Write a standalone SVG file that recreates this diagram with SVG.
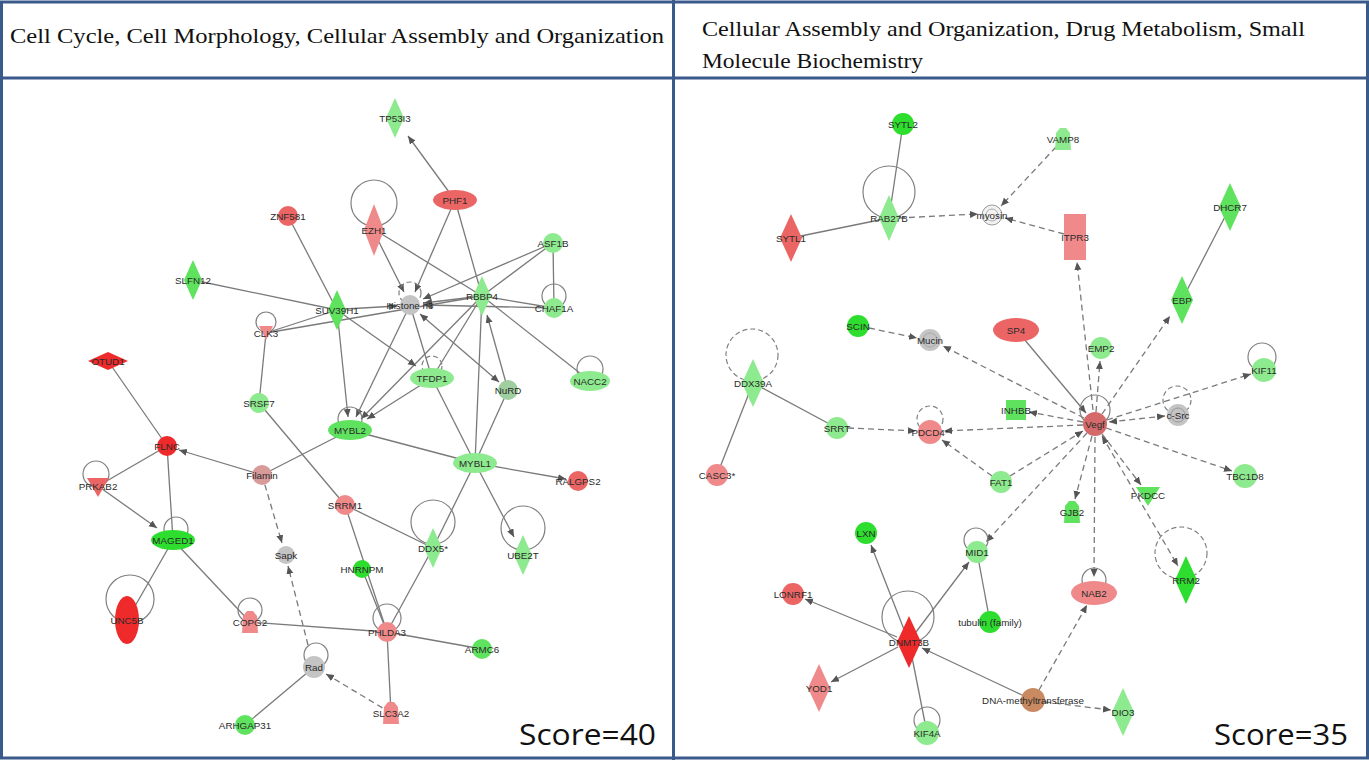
<svg xmlns="http://www.w3.org/2000/svg" xmlns:xlink="http://www.w3.org/1999/xlink" width="1369" height="760" viewBox="0 0 1369 760">
<style>
.e{stroke:#7a7a7a;stroke-width:1.3;fill:none}
.d{stroke:#7a7a7a;stroke-width:1.3;fill:none;stroke-dasharray:6 4}
.lp{stroke:#808080;stroke-width:1.2;fill:none}
.lpd{stroke:#808080;stroke-width:1.2;fill:none;stroke-dasharray:5 3}
.a{marker-end:url(#ar)}
.b{marker-start:url(#ar);marker-end:url(#ar)}
.G{fill:#2ede2e}
.g{fill:#5fe35f}
.l{fill:#8eea8e}
.R{fill:#ee2a2a}
.r{fill:#ec6565}
.p{fill:#f08a8a}
.y{fill:#c4c4c4}
.t{font-family:"Liberation Sans",Arial,sans-serif;font-size:9.8px;fill:#2a2a2a;text-anchor:middle;dominant-baseline:central}
.h{font-family:"Liberation Serif","Times New Roman",serif;font-size:22px;fill:#111}
.s{font-family:"Open Sans","Liberation Sans",sans-serif;font-size:29px;fill:#111}
.fr{stroke:#3a5a8c;fill:none}
</style>
<defs>
<marker id="ar" markerUnits="userSpaceOnUse" markerWidth="9" markerHeight="8" refX="8" refY="3.5" orient="auto-start-reverse"><path d="M0,0 L8,3.5 L0,7 Z" fill="#555"/></marker>
<path id="dia" d="M0,-20 L9,0 L0,20 L-9,0 Z"/>
<path id="diaL" d="M0,-24 L11,0 L0,24 L-11,0 Z"/>
<path id="hdia" d="M-20,0 L0,-9 L20,0 L0,9 Z"/>
<circle id="cir" r="10"/>
<circle id="cirL" r="12"/>
<ellipse id="ell" rx="22" ry="10"/>
<ellipse id="ellL" rx="23" ry="12"/>
<path id="tdn" d="M-12,-8 L12,-8 L0,11 Z"/>
<path id="trap" d="M-8,11 L-7,-6 L-3,-11 L3,-11 L7,-6 L8,11 Z"/>
<rect id="sq" x="-10" y="-10" width="20" height="20"/>
<rect id="rct" x="-11" y="-23" width="22" height="46"/>
</defs>
<rect x="0" y="0" width="1369" height="760" fill="#ffffff"/>

<g id="frame">
<rect class="fr" x="1.5" y="2" width="1366" height="756" stroke-width="3"/>
<line class="fr" x1="0" y1="78" x2="1369" y2="78" stroke-width="3"/>
<line class="fr" x1="673.5" y1="0" x2="673.5" y2="760" stroke-width="3"/>
<text class="h" x="10" y="43" textLength="654" lengthAdjust="spacingAndGlyphs">Cell Cycle, Cell Morphology, Cellular Assembly and Organization</text>
<text class="h" x="702" y="36" textLength="603" lengthAdjust="spacingAndGlyphs">Cellular Assembly and Organization, Drug Metabolism, Small</text>
<text class="h" x="702" y="68" textLength="221" lengthAdjust="spacingAndGlyphs">Molecule Biochemistry</text>
<text class="s" x="519" y="745" textLength="137" lengthAdjust="spacingAndGlyphs">Score=40</text>
<text class="s" x="1214" y="745" textLength="134" lengthAdjust="spacingAndGlyphs">Score=35</text>
</g>

<g id="connectors">
<!-- left panel -->
<line class="e a" x1="449" y1="192" x2="408" y2="136"/>
<line class="e a" x1="451" y1="209" x2="415" y2="292"/>
<line class="e" x1="455" y1="200" x2="482" y2="296"/>
<line class="e" x1="288" y1="216" x2="337" y2="310"/>
<line class="e a" x1="378" y1="240" x2="404" y2="292"/>
<line class="e" x1="380" y1="233" x2="482" y2="296"/>
<line class="e" x1="193" y1="280" x2="337" y2="310"/>
<line class="e a" x1="345" y1="309" x2="397" y2="306"/>
<line class="e" x1="266" y1="333" x2="337" y2="310"/>
<line class="e" x1="266" y1="333" x2="482" y2="296"/>
<line class="e a" x1="553" y1="243" x2="423" y2="299"/>
<line class="e" x1="553" y1="243" x2="482" y2="296"/>
<line class="e" x1="553" y1="243" x2="554" y2="308"/>
<line class="e a" x1="554" y1="308" x2="424" y2="305"/>
<line class="e" x1="554" y1="308" x2="482" y2="296"/>
<line class="e a" x1="482" y1="296" x2="424" y2="303"/>
<line class="e b" x1="420" y1="314" x2="499" y2="382"/>
<line class="e" x1="482" y1="296" x2="590" y2="381"/>
<line class="e a" x1="508" y1="390" x2="487" y2="315"/>
<line class="e" x1="482" y1="296" x2="475" y2="463"/>
<line class="e a" x1="482" y1="296" x2="361" y2="419"/>
<line class="e" x1="482" y1="296" x2="432" y2="378"/>
<line class="e a" x1="410" y1="305" x2="356" y2="417"/>
<line class="e" x1="410" y1="305" x2="432" y2="378"/>
<line class="e a" x1="337" y1="310" x2="348" y2="417"/>
<line class="e a" x1="337" y1="310" x2="416" y2="366"/>
<line class="e a" x1="432" y1="378" x2="367" y2="419"/>
<line class="e" x1="432" y1="378" x2="475" y2="463"/>
<line class="e" x1="508" y1="390" x2="475" y2="463"/>
<line class="e" x1="350" y1="430" x2="475" y2="463"/>
<line class="e a" x1="475" y1="463" x2="566" y2="479"/>
<line class="e a" x1="475" y1="463" x2="514" y2="537"/>
<line class="e" x1="475" y1="463" x2="433" y2="548"/>
<line class="e" x1="350" y1="430" x2="262" y2="475"/>
<line class="e" x1="259" y1="403" x2="266" y2="333"/>
<line class="e" x1="259" y1="403" x2="345" y2="505"/>
<line class="e" x1="345" y1="505" x2="433" y2="548"/>
<line class="e" x1="345" y1="505" x2="387" y2="632"/>
<line class="e" x1="362" y1="569" x2="387" y2="632"/>
<line class="e" x1="433" y1="548" x2="387" y2="632"/>
<line class="e" x1="387" y1="632" x2="250" y2="622"/>
<line class="e" x1="387" y1="632" x2="482" y2="649"/>
<line class="e" x1="387" y1="632" x2="391" y2="713"/>
<line class="d a" x1="391" y1="713" x2="326" y2="674"/>
<line class="d a" x1="308" y1="645" x2="288" y2="566"/>
<line class="d a" x1="262" y1="475" x2="282" y2="543"/>
<line class="e a" x1="262" y1="475" x2="179" y2="450"/>
<line class="e" x1="108" y1="361" x2="167" y2="446"/>
<line class="e" x1="167" y1="446" x2="98" y2="486"/>
<line class="e" x1="167" y1="446" x2="173" y2="540"/>
<line class="e a" x1="98" y1="486" x2="157" y2="528"/>
<line class="e" x1="173" y1="540" x2="127" y2="620"/>
<line class="e" x1="173" y1="540" x2="250" y2="622"/>
<line class="e" x1="314" y1="667" x2="245" y2="725"/>
<!-- left loops -->
<circle class="lp" cx="374" cy="203" r="23"/>
<circle class="lpd" cx="410" cy="293" r="11"/>
<circle class="lp" cx="554" cy="296" r="12"/>
<circle class="lp" cx="266" cy="322" r="10"/>
<circle class="lpd" cx="432" cy="366" r="10"/>
<circle class="lp" cx="590" cy="369" r="13"/>
<circle class="lp" cx="350" cy="419" r="12"/>
<circle class="lp" cx="96" cy="474" r="13"/>
<circle class="lp" cx="433" cy="522" r="22"/>
<circle class="lp" cx="523" cy="528" r="22"/>
<circle class="lp" cx="176" cy="529" r="12"/>
<circle class="lp" cx="130" cy="599" r="24"/>
<circle class="lp" cx="250" cy="610" r="12"/>
<circle class="lp" cx="387" cy="618" r="14"/>
<circle class="lp" cx="316" cy="655" r="12"/>
<!-- right panel -->
<line class="e" x1="903" y1="124" x2="889" y2="218"/>
<line class="e" x1="791" y1="238" x2="889" y2="218"/>
<line class="d a" x1="899" y1="218" x2="978" y2="214"/>
<line class="d a" x1="1056" y1="147" x2="1001" y2="206"/>
<line class="d a" x1="1064" y1="234" x2="1005" y2="218"/>
<line class="d a" x1="1093" y1="410" x2="1077" y2="262"/>
<line class="d a" x1="1102" y1="414" x2="1170" y2="316"/>
<line class="e" x1="1182" y1="300" x2="1230" y2="207"/>
<line class="d a" x1="869" y1="328" x2="917" y2="338"/>
<line class="d a" x1="1084" y1="418" x2="943" y2="346"/>
<line class="e a" x1="1024" y1="339" x2="1086" y2="413"/>
<line class="d a" x1="1096" y1="412" x2="1100" y2="361"/>
<line class="d a" x1="1083" y1="422" x2="1029" y2="412"/>
<line class="d a" x1="1083" y1="425" x2="944" y2="431"/>
<line class="d a" x1="848" y1="428" x2="916" y2="431"/>
<line class="d a" x1="992" y1="476" x2="942" y2="440"/>
<line class="d a" x1="1010" y1="476" x2="1083" y2="431"/>
<line class="e" x1="753" y1="383" x2="837" y2="428"/>
<line class="e" x1="753" y1="383" x2="717" y2="475"/>
<line class="d b" x1="1165" y1="416" x2="1109" y2="422"/>
<line class="d a" x1="1107" y1="420" x2="1251" y2="374"/>
<line class="d a" x1="1106" y1="428" x2="1232" y2="471"/>
<line class="d a" x1="1102" y1="434" x2="1141" y2="485"/>
<line class="d a" x1="1092" y1="436" x2="1075" y2="499"/>
<line class="d a" x1="1095" y1="437" x2="1094" y2="577"/>
<line class="d b" x1="1102" y1="436" x2="1178" y2="566"/>
<line class="d a" x1="1087" y1="433" x2="986" y2="542"/>
<line class="e" x1="977" y1="552" x2="990" y2="622"/>
<line class="e a" x1="905" y1="632" x2="871" y2="545"/>
<line class="e a" x1="916" y1="632" x2="969" y2="562"/>
<line class="e a" x1="897" y1="637" x2="805" y2="599"/>
<line class="e a" x1="898" y1="647" x2="831" y2="682"/>
<line class="e" x1="909" y1="642" x2="927" y2="733"/>
<line class="e a" x1="1022" y1="695" x2="922" y2="648"/>
<line class="d a" x1="1039" y1="690" x2="1087" y2="605"/>
<line class="d a" x1="1045" y1="702" x2="1111" y2="710"/>
<!-- right loops -->
<circle class="lp" cx="889" cy="192" r="26"/>
<circle class="lpd" cx="752" cy="355" r="26"/>
<circle class="lpd" cx="930" cy="419" r="13"/>
<circle class="lp" cx="1095" cy="410" r="15"/>
<circle class="lpd" cx="1177" cy="400" r="14"/>
<circle class="lp" cx="1262" cy="357" r="14"/>
<circle class="lpd" cx="1181" cy="553" r="26"/>
<circle class="lp" cx="976" cy="540" r="12"/>
<circle class="lp" cx="1094" cy="580" r="12"/>
<circle class="lp" cx="908" cy="617" r="26"/>
<circle class="lp" cx="927" cy="720" r="13"/>
</g>

<!-- left nodes -->
<g id="n-TP53I3" transform="translate(395,118)"><use href="#dia" class="l"/><text class="t">TP53I3</text></g>
<g id="n-PHF1" transform="translate(455,200)"><use href="#ell" class="r"/><text class="t">PHF1</text></g>
<g id="n-ZNF581" transform="translate(288,216)"><use href="#cir" class="r"/><text class="t">ZNF581</text></g>
<g id="n-EZH1" transform="translate(374,230)"><path d="M0,-26 L10,0 L0,26 L-10,0 Z" class="p"/><text class="t">EZH1</text></g>
<g id="n-SLFN12" transform="translate(193,280)"><use href="#dia" class="g"/><text class="t">SLFN12</text></g>
<g id="n-SUV39H1" transform="translate(337,310)"><use href="#dia" class="g"/><text class="t">SUV39H1</text></g>
<g id="n-Histone" transform="translate(410,305)"><use href="#cir" class="y"/><text class="t">Histone h3</text></g>
<g id="n-RBBP4" transform="translate(482,296)"><use href="#dia" class="l"/><text class="t">RBBP4</text></g>
<g id="n-ASF1B" transform="translate(553,243)"><use href="#cir" class="l"/><text class="t">ASF1B</text></g>
<g id="n-CHAF1A" transform="translate(554,308)"><use href="#cir" class="l"/><text class="t">CHAF1A</text></g>
<g id="n-CLK3" transform="translate(266,333)"><path d="M-7,-7 L7,-7 L0,7 Z" class="p"/><text class="t">CLK3</text></g>
<g id="n-TFDP1" transform="translate(432,378)"><use href="#ell" class="l"/><text class="t">TFDP1</text></g>
<g id="n-NuRD" transform="translate(508,390)"><use href="#cir" style="fill:#9fcf9f"/><text class="t">NuRD</text></g>
<g id="n-NACC2" transform="translate(590,381)"><ellipse rx="20" ry="10" class="l"/><text class="t">NACC2</text></g>
<g id="n-OTUD1" transform="translate(108,361)"><use href="#hdia" class="R"/><text class="t">OTUD1</text></g>
<g id="n-SRSF7" transform="translate(259,403)"><use href="#cir" class="l"/><text class="t">SRSF7</text></g>
<g id="n-MYBL2" transform="translate(350,430)"><use href="#ell" class="g"/><text class="t">MYBL2</text></g>
<g id="n-MYBL1" transform="translate(475,463)"><use href="#ell" class="l"/><text class="t">MYBL1</text></g>
<g id="n-FLNC" transform="translate(167,446)"><use href="#cir" class="R"/><text class="t">FLNC</text></g>
<g id="n-PRKAB2" transform="translate(98,486)"><path d="M-11,-8 L11,-8 L0,11 Z" class="r"/><text class="t">PRKAB2</text></g>
<g id="n-Filamin" transform="translate(262,475)"><use href="#cir" style="fill:#d99a9a"/><text class="t">Filamin</text></g>
<g id="n-RALGPS2" transform="translate(578,481)"><use href="#cir" class="r"/><text class="t">RALGPS2</text></g>
<g id="n-SRRM1" transform="translate(345,505)"><use href="#cir" class="p"/><text class="t">SRRM1</text></g>
<g id="n-DDX5" transform="translate(433,548)"><use href="#dia" class="l"/><text class="t">DDX5*</text></g>
<g id="n-UBE2T" transform="translate(523,555)"><use href="#dia" class="l"/><text class="t">UBE2T</text></g>
<g id="n-MAGED1" transform="translate(173,540)"><use href="#ell" class="G"/><text class="t">MAGED1</text></g>
<g id="n-Sapk" transform="translate(286,555)"><circle r="9" class="y"/><text class="t">Sapk</text></g>
<g id="n-HNRNPM" transform="translate(362,569)"><circle r="9" class="G"/><text class="t">HNRNPM</text></g>
<g id="n-UNC5B" transform="translate(127,620)"><ellipse rx="12" ry="24" class="R"/><text class="t">UNC5B</text></g>
<g id="n-COPG2" transform="translate(250,622)"><use href="#trap" class="p"/><text class="t">COPG2</text></g>
<g id="n-PHLDA3" transform="translate(387,632)"><use href="#cir" class="p"/><text class="t">PHLDA3</text></g>
<g id="n-ARMC6" transform="translate(482,649)"><circle r="10" class="g"/><text class="t">ARMC6</text></g>
<g id="n-Rad" transform="translate(314,667)"><circle r="11" class="y"/><text class="t">Rad</text></g>
<g id="n-SLC3A2" transform="translate(391,713)"><use href="#trap" class="p"/><text class="t">SLC3A2</text></g>
<g id="n-ARHGAP31" transform="translate(245,725)"><circle r="10" class="g"/><text class="t">ARHGAP31</text></g>

<!-- right nodes -->
<g id="n-SYTL2" transform="translate(903,124)"><circle r="11" class="G"/><text class="t">SYTL2</text></g>
<g id="n-RAB27B" transform="translate(889,218)"><path d="M0,-23 L10,0 L0,23 L-10,0 Z" class="l"/><text class="t">RAB27B</text></g>
<g id="n-SYTL1" transform="translate(791,238)"><use href="#diaL" class="r"/><text class="t">SYTL1</text></g>
<g id="n-myosin" transform="translate(992,215)"><circle r="10" fill="#f2f2f2" stroke="#999"/><circle r="6" fill="none" stroke="#aaa"/><text class="t">myosin</text></g>
<g id="n-VAMP8" transform="translate(1063,139)"><use href="#trap" class="l"/><text class="t">VAMP8</text></g>
<g id="n-ITPR3" transform="translate(1075,237)"><use href="#rct" class="p"/><text class="t">ITPR3</text></g>
<g id="n-DHCR7" transform="translate(1230,207)"><use href="#diaL" class="g"/><text class="t">DHCR7</text></g>
<g id="n-EBP" transform="translate(1182,300)"><use href="#diaL" class="g"/><text class="t">EBP</text></g>
<g id="n-SCIN" transform="translate(858,326)"><circle r="11" class="G"/><text class="t">SCIN</text></g>
<g id="n-Mucin" transform="translate(930,340)"><circle r="11" class="y"/><circle r="7" fill="none" stroke="#aaa"/><text class="t">Mucin</text></g>
<g id="n-SP4" transform="translate(1016,330)"><use href="#ellL" class="r"/><text class="t">SP4</text></g>
<g id="n-EMP2" transform="translate(1101,348)"><circle r="11" class="l"/><text class="t">EMP2</text></g>
<g id="n-DDX39A" transform="translate(753,383)"><use href="#diaL" class="l"/><text class="t">DDX39A</text></g>
<g id="n-SRRT" transform="translate(837,428)"><circle r="11" class="l"/><text class="t">SRRT</text></g>
<g id="n-PDCD4" transform="translate(930,432)"><circle r="12" class="p"/><text class="t">PDCD4*</text></g>
<g id="n-INHBB" transform="translate(1016,410)"><use href="#sq" class="g"/><text class="t">INHBB</text></g>
<g id="n-Vegf" transform="translate(1095,424)"><circle r="12" style="fill:#d46a6a"/><text class="t">Vegf</text></g>
<g id="n-cSrc" transform="translate(1178,415)"><circle r="11" class="y"/><circle r="7" fill="none" stroke="#999"/><text class="t">c-Src</text></g>
<g id="n-KIF11" transform="translate(1264,370)"><circle r="12" class="l"/><text class="t">KIF11</text></g>
<g id="n-CASC3" transform="translate(717,475)"><circle r="11" class="p"/><text class="t">CASC3*</text></g>
<g id="n-FAT1" transform="translate(1001,482)"><circle r="11" class="l"/><text class="t">FAT1</text></g>
<g id="n-TBC1D8" transform="translate(1245,476)"><circle r="12" class="l"/><text class="t">TBC1D8</text></g>
<g id="n-PKDCC" transform="translate(1148,495)"><use href="#tdn" class="g"/><text class="t">PKDCC</text></g>
<g id="n-GJB2" transform="translate(1072,512)"><use href="#trap" class="g"/><text class="t">GJB2</text></g>
<g id="n-RRM2" transform="translate(1186,580)"><use href="#diaL" class="G"/><text class="t">RRM2</text></g>
<g id="n-LXN" transform="translate(866,533)"><circle r="11" class="G"/><text class="t">LXN</text></g>
<g id="n-MID1" transform="translate(977,552)"><circle r="11" class="l"/><text class="t">MID1</text></g>
<g id="n-NAB2" transform="translate(1094,593)"><use href="#ellL" class="p"/><text class="t">NAB2</text></g>
<g id="n-LONRF1" transform="translate(793,594)"><circle r="11" class="r"/><text class="t">LONRF1</text></g>
<g id="n-tubulin" transform="translate(990,622)"><circle r="11" class="G"/><text class="t">tubulin (family)</text></g>
<g id="n-DNMT3B" transform="translate(909,642)"><path d="M0,-26 L12,0 L0,26 L-12,0 Z" class="R"/><text class="t">DNMT3B</text></g>
<g id="n-YOD1" transform="translate(819,688)"><use href="#diaL" class="p"/><text class="t">YOD1</text></g>
<g id="n-DNAmt" transform="translate(1033,700)"><circle r="12" style="fill:#c98a62"/><text class="t">DNA-methyltransferase</text></g>
<g id="n-DIO3" transform="translate(1123,712)"><use href="#diaL" class="l"/><text class="t">DIO3</text></g>
<g id="n-KIF4A" transform="translate(927,733)"><circle r="12" class="l"/><text class="t">KIF4A</text></g>
</svg>
